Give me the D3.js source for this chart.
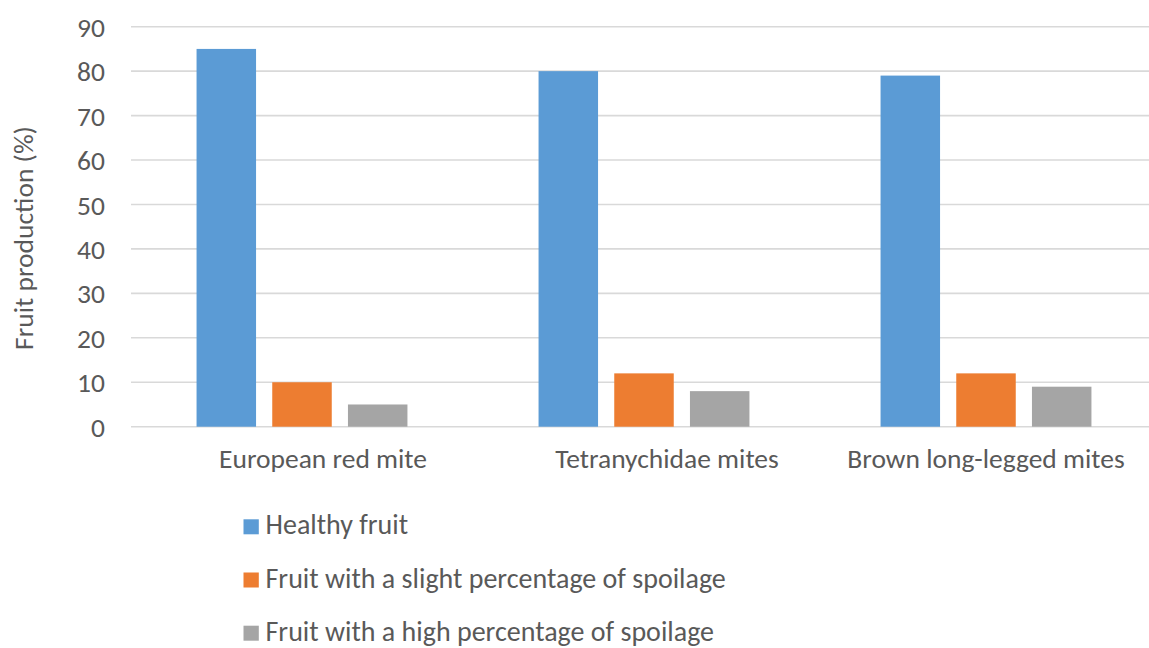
<!DOCTYPE html>
<html>
<head>
<meta charset="utf-8">
<script src="https://cdn.jsdelivr.net/npm/d3@7"></script>
<style>
  html, body { margin: 0; padding: 0; background: #fff; }
  svg { display: block; font-family: Carlito, Calibri, Lato, sans-serif; }
</style>
</head>
<body>
<svg id="chart" width="1149" height="648"></svg>
<script>
const categories = ["European red mite", "Tetranychidae mites", "Brown long-legged mites"];
const seriesNames = ["Healthy fruit", "Fruit with a slight percentage of spoilage", "Fruit with a high percentage of spoilage"];
const healthy = [85, 80, 79];
const slight = [10, 12, 12];
const high = [5, 8, 9];
const yTicks = [0, 10, 20, 30, 40, 50, 60, 70, 80, 90];
const yTitle = "Fruit production (%)";

const colors = ["#5B9BD5", "#ED7D31", "#A5A5A5"];
const labelShift = [21, 23, 0];
const textColor = "#595959";
const fontSize = 27.5;
const legendFontSize = 28;
const font = "Carlito, Calibri, Lato, sans-serif";

const series = [healthy, slight, high];
const svg = d3.select("#chart");

const x0 = d3.scaleBand().domain(categories).range([131, 1157]).paddingInner(0).paddingOuter(0);
const x1 = d3.scaleBand().domain(seriesNames).range([0, x0.bandwidth()]).paddingInner(0.214).paddingOuter(0.866);
const y = d3.scaleLinear().domain([0, 90]).range([426.7, 26.7]);

// gridlines
svg.append("g").selectAll("line").data(yTicks).join("line")
  .attr("x1", 131).attr("x2", 1157)
  .attr("y1", d => y(d)).attr("y2", d => y(d))
  .attr("stroke", "#d9d9d9").attr("stroke-width", 1.6);

// y axis
const yAxis = svg.append("g").attr("transform", "translate(105,0)")
  .call(d3.axisLeft(y).tickValues(yTicks).tickSize(0).tickPadding(0));
yAxis.select(".domain").remove();
yAxis.selectAll("text").attr("fill", textColor).style("font-size", fontSize + "px")
  .style("font-family", font).attr("dy", "0.35em");

// bars
const groups = svg.append("g").selectAll("g").data(categories).join("g")
  .attr("transform", d => `translate(${x0(d)},0)`);
groups.selectAll("rect").data((d, i) => series.map((s, j) => ({ name: seriesNames[j], v: s[i], j })))
  .join("rect")
  .attr("x", d => x1(d.name)).attr("width", x1.bandwidth())
  .attr("y", d => y(d.v)).attr("height", d => y(0) - y(d.v))
  .attr("fill", d => colors[d.j]);

// x axis labels
const xAxis = svg.append("g").attr("transform", `translate(0,${y(0)})`)
  .call(d3.axisBottom(x0).tickSize(0).tickPadding(0));
xAxis.select(".domain").remove();
xAxis.selectAll("text").attr("fill", textColor).style("font-size", fontSize + "px")
  .style("font-family", font)
  .attr("dy", "0").attr("y", 41)
  .attr("x", (d, i) => labelShift[i]);

// y title
svg.append("text").attr("transform", "translate(33,238) rotate(-90)")
  .attr("text-anchor", "middle").attr("fill", textColor).style("font-size", fontSize + "px")
  .text(yTitle);

// legend
const leg = svg.append("g").selectAll("g").data(seriesNames).join("g")
  .attr("transform", (d, i) => `translate(243.5,${519.3 + i * 53.2})`);
leg.append("rect").attr("width", 15.3).attr("height", 15).attr("fill", (d, i) => colors[i]);
leg.append("text").attr("x", 22).attr("y", 15).attr("fill", textColor)
  .style("font-size", legendFontSize + "px").text(d => d);
</script>
</body>
</html>
